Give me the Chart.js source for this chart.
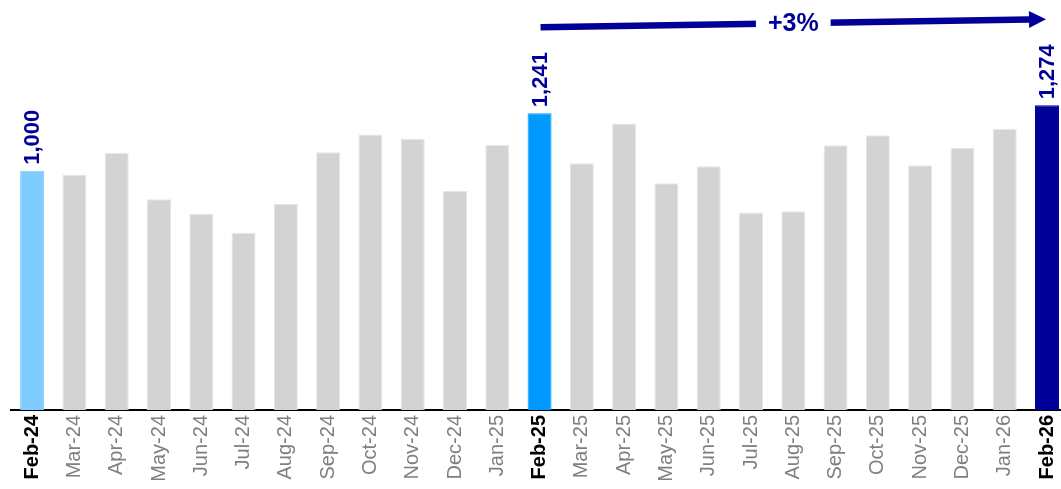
<!DOCTYPE html>
<html>
<head>
<meta charset="utf-8">
<script src="https://cdn.jsdelivr.net/npm/chart.js@4.4.1/dist/chart.umd.min.js"></script>
<style>
  html, body { margin: 0; padding: 0; background: #fff; overflow: hidden; }
  .chart-container { position: absolute; left: 0; top: 0; width: 1076px; height: 489px; }
</style>
</head>
<body>
<div class="chart-container">
  <canvas id="chart"></canvas>
</div>
<script>
const months = ['Feb-24','Mar-24','Apr-24','May-24','Jun-24','Jul-24','Aug-24','Sep-24','Oct-24','Nov-24','Dec-24','Jan-25',
  'Feb-25','Mar-25','Apr-25','May-25','Jun-25','Jul-25','Aug-25','Sep-25','Oct-25','Nov-25','Dec-25','Jan-26','Feb-26'];
const values = [1000, 983, 1074, 881, 820, 741, 862, 1078, 1152, 1134, 916, 1108,
  1241, 1032, 1198, 948, 1019, 826, 831, 1107, 1149, 1023, 1096, 1175, 1274];
// bars that are highlighted and labelled
const highlight = { 0: '#7fccff', 12: '#0099ff', 24: '#000099' };
const growthLabel = '+3%';
const arrowLevels = [1600, 1634]; // y value at start / end of the arrow

const FONT = '"Liberation Sans", Arial, sans-serif';
const NAVY = '#000099';

const barColors = values.map((v, i) => highlight[i] || '#d3d3d3');
const borderColors = values.map((v, i) => highlight[i] || '#e6e6e6');

const overlay = {
  id: 'overlay',
  afterDatasetsDraw(chart) {
    const ctx = chart.ctx;
    const meta = chart.getDatasetMeta(0);
    const yScale = chart.scales.y;

    // value labels above highlighted bars
    ctx.save();
    ctx.fillStyle = NAVY;
    ctx.font = 'bold 22px ' + FONT;
    ctx.textAlign = 'left';
    ctx.textBaseline = 'middle';
    Object.keys(highlight).forEach(k => {
      const bar = meta.data[k];
      ctx.save();
      ctx.translate(bar.x + 1, bar.y - 6);
      ctx.rotate(-Math.PI / 2);
      ctx.fillText(values[k].toLocaleString('en-US'), 0, 0);
      ctx.restore();
    });
    ctx.restore();

    // growth arrow from Feb-25 to Feb-26
    const x0 = meta.data[12].x + 1;
    const x1 = meta.data[24].x - 1;
    const y0 = yScale.getPixelForValue(arrowLevels[0]);
    const y1 = yScale.getPixelForValue(arrowLevels[1]);
    const head = 17;
    const ang = Math.atan2(y1 - y0, x1 - x0);
    const hx = x1 - head * Math.cos(ang);
    const hy = y1 - head * Math.sin(ang);
    ctx.save();
    ctx.strokeStyle = NAVY;
    ctx.fillStyle = NAVY;
    ctx.lineWidth = 6.5;
    ctx.beginPath();
    ctx.moveTo(x0, y0);
    ctx.lineTo(hx, hy);
    ctx.stroke();
    ctx.beginPath();
    ctx.moveTo(x1, y1);
    ctx.lineTo(hx + 8.5 * Math.sin(ang), hy - 8.5 * Math.cos(ang));
    ctx.lineTo(hx - 8.5 * Math.sin(ang), hy + 8.5 * Math.cos(ang));
    ctx.closePath();
    ctx.fill();

    const mx = (x0 + x1) / 2;
    const my = (y0 + y1) / 2;
    ctx.font = 'bold 25px ' + FONT;
    const w = ctx.measureText(growthLabel).width;
    ctx.fillStyle = '#fff';
    ctx.fillRect(mx - w / 2 - 12, my - 12, w + 24, 24);
    ctx.fillStyle = NAVY;
    ctx.textAlign = 'center';
    ctx.textBaseline = 'middle';
    ctx.fillText(growthLabel, mx, my + 1);
    ctx.restore();
  }
};

new Chart(document.getElementById('chart').getContext('2d'), {
  type: 'bar',
  data: {
    labels: months,
    datasets: [{
      data: values,
      backgroundColor: barColors,
      borderColor: borderColors,
      borderWidth: 1,
      barPercentage: 1,
      categoryPercentage: 0.567
    }]
  },
  options: {
    responsive: true,
    maintainAspectRatio: false,
    animation: false,
    layout: { padding: { left: 11, right: 0, top: 0, bottom: 0 } },
    plugins: {
      legend: { display: false },
      tooltip: { enabled: false }
    },
    scales: {
      x: {
        grid: { display: false, drawTicks: false },
        border: { display: true, color: '#000', width: 2 },
        afterFit: s => { s.height = 79; },
        ticks: {
          autoSkip: false,
          minRotation: 90,
          maxRotation: 90,
          padding: 5,
          color: c => highlight[c.index] ? '#000' : '#7f7f7f',
          font: c => ({ family: FONT, size: 20, weight: highlight[c.index] ? 'bold' : 'normal' })
        }
      },
      y: {
        display: false,
        min: 0,
        max: 1714
      }
    }
  },
  plugins: [overlay]
});
</script>
</body>
</html>
